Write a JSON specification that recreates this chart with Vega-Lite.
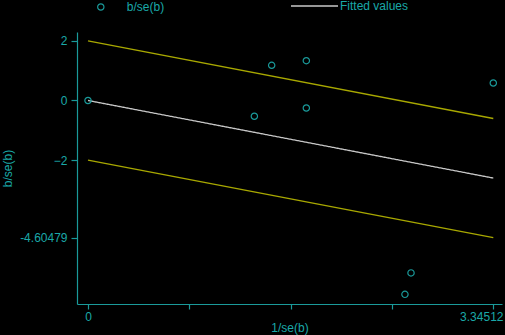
{
  "$schema": "https://vega.github.io/schema/vega-lite/v6.json",
  "width": 425,
  "height": 272,
  "autosize": {"type": "none"},
  "padding": {"left": 77, "top": 32, "right": 3, "bottom": 31},
  "background": "#000000",
  "config": {
    "view": {"stroke": null},
    "font": "Liberation Sans",
    "axis": {
      "domainColor": "#1a9a9a",
      "tickColor": "#1a9a9a",
      "labelColor": "#1aa8a8",
      "titleColor": "#1aa8a8",
      "labelFont": "Liberation Sans",
      "titleFont": "Liberation Sans",
      "labelFontSize": 12,
      "titleFontSize": 12,
      "titleFontWeight": "normal",
      "grid": false,
      "domainWidth": 1.2,
      "tickWidth": 1.2
    },
    "legend": {
      "labelColor": "#1aa8a8",
      "labelFontSize": 12,
      "labelFont": "Liberation Sans",
      "padding": 0
    }
  },
  "datasets": {
    "pts": [
      {"x": 0, "y": 0, "s": "b/se(b)"},
      {"x": 1.373, "y": -0.53, "s": "b/se(b)"},
      {"x": 1.516, "y": 1.182, "s": "b/se(b)"},
      {"x": 1.802, "y": 1.336, "s": "b/se(b)"},
      {"x": 1.802, "y": -0.252, "s": "b/se(b)"},
      {"x": 3.34512, "y": 0.588, "s": "b/se(b)"},
      {"x": 2.666, "y": -5.79, "s": "b/se(b)"},
      {"x": 2.616, "y": -6.51, "s": "b/se(b)"}
    ],
    "fit": [
      {"x": 0, "fit": 0, "lo": -2, "hi": 2, "s": "Fitted values"},
      {"x": 3.34512, "fit": -2.60479, "lo": -4.60479, "hi": -0.60479, "s": "Fitted values"}
    ]
  },
  "layer": [
    {
      "data": {"name": "fit"},
      "mark": {"type": "line", "color": "#a8a800", "strokeWidth": 1.3},
      "encoding": {
        "x": {"field": "x", "type": "quantitative"},
        "y": {"field": "hi", "type": "quantitative"}
      }
    },
    {
      "data": {"name": "fit"},
      "mark": {"type": "line", "color": "#a8a800", "strokeWidth": 1.3},
      "encoding": {
        "x": {"field": "x", "type": "quantitative"},
        "y": {"field": "lo", "type": "quantitative"}
      }
    },
    {
      "data": {"name": "fit"},
      "mark": {"type": "line", "color": "#c8c8c8", "strokeWidth": 1.3},
      "encoding": {
        "x": {"field": "x", "type": "quantitative"},
        "y": {"field": "fit", "type": "quantitative"},
        "strokeDash": {
          "field": "s", "type": "nominal", "title": null,
          "scale": {"domain": ["Fitted values"], "range": [[1, 0]]},
          "legend": {
            "orient": "none",
            "legendX": 213,
            "legendY": -50.5,
            "title": null,
            "symbolType": "stroke",
            "symbolSize": 2209,
            "symbolStrokeColor": "#c8c8c8",
            "symbolStrokeWidth": 1.3,
            "labelOffset": 1
          }
        }
      }
    },
    {
      "data": {"name": "pts"},
      "mark": {"type": "point", "filled": false, "size": 40, "strokeWidth": 1.2, "opacity": 1},
      "encoding": {
        "x": {
          "field": "x", "type": "quantitative",
          "scale": {"domain": [-0.0908, 3.417], "nice": false, "zero": false},
          "axis": {
            "title": "1/se(b)",
            "values": [0, 0.83628, 1.67256, 2.50884, 3.34512],
            "labelExpr": "datum.value == 0 ? '0' : (datum.value > 3 ? '3.34512' : '')",
            "labelOffset": {"condition": {"test": "datum.value > 3", "value": -12}, "value": 0},
            "tickSize": 5,
            "labelPadding": 2,
            "titlePadding": 0
          }
        },
        "y": {
          "field": "y", "type": "quantitative",
          "scale": {"domain": [-6.834, 2.3], "nice": false, "zero": false},
          "axis": {
            "title": "b/se(b)",
            "values": [2, 0, -2, -4.60479],
            "labelExpr": "datum.value == -4.60479 ? '-4.60479' : format(datum.value, 'd')",
            "tickSize": 6,
            "labelPadding": 4,
            "titlePadding": 5
          }
        },
        "color": {
          "field": "s", "type": "nominal", "title": null,
          "scale": {"domain": ["b/se(b)"], "range": ["#1a9a9a"]},
          "legend": {
            "orient": "none",
            "legendX": 17.8,
            "legendY": -31,
            "title": null,
            "symbolType": "circle",
            "symbolSize": 40,
            "symbolStrokeWidth": 1.2,
            "symbolFillColor": "transparent",
            "labelOffset": 20
          }
        }
      }
    }
  ]
}
